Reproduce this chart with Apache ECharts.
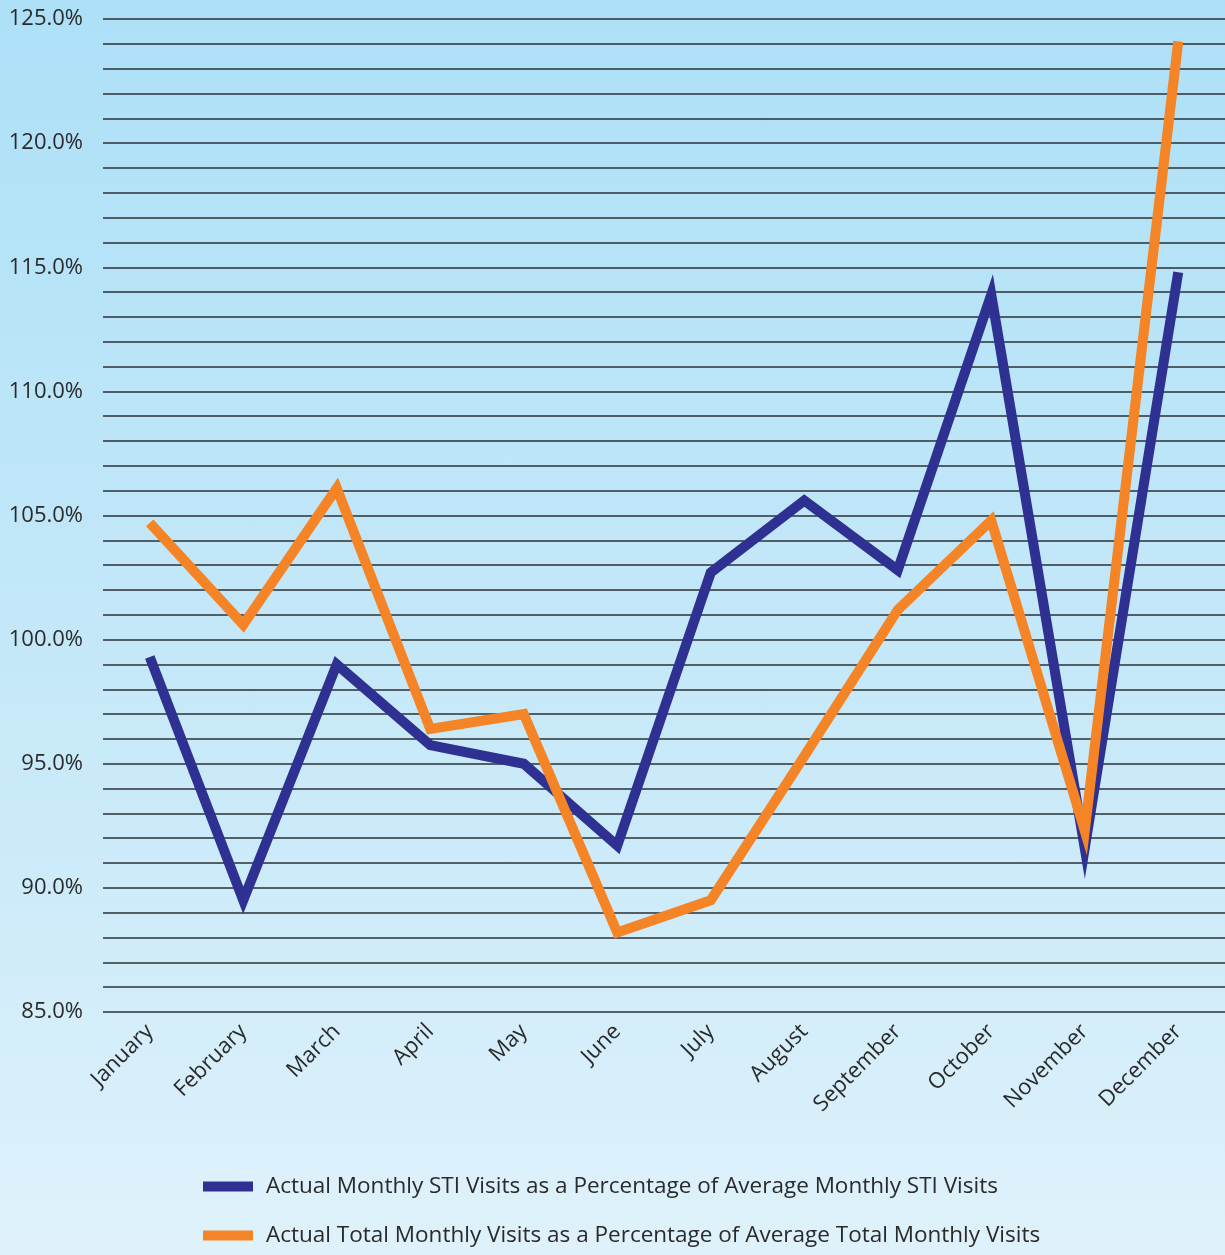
<!DOCTYPE html>
<html>
<head>
<meta charset="utf-8">
<script src="https://cdn.jsdelivr.net/npm/echarts@6/dist/echarts.min.js"></script>
<style>
  html, body { margin: 0; padding: 0; }
  #chart {
    width: 1225px; height: 1255px;
    background: linear-gradient(to bottom, #ade0f7 0%, #cdebf9 70%, #dff2fb 100%);
  }
</style>
</head>
<body>
<div id="chart"></div>
<script>
var months = ["January", "February", "March", "April", "May", "June",
  "July", "August", "September", "October", "November", "December"];
var stiVisits = [99.3, 89.5, 99.0, 95.75, 95.0, 91.7, 102.7, 105.6, 102.8, 113.9, 91.6, 114.8];
var totalVisits = [104.7, 100.6, 106.1, 96.4, 97.0, 88.2, 89.5, 95.3, 101.2, 104.8, 92.3, 124.1];
var stiName = "Actual Monthly STI Visits as a Percentage of Average Monthly STI Visits";
var totalName = "Actual Total Monthly Visits as a Percentage of Average Total Monthly Visits";

var myChart = echarts.init(document.getElementById("chart"));
var font = "'Open Sans', sans-serif";

var option = {
  animation: false,
  grid: { left: 103, right: -6, top: 19, bottom: 243 },
  legend: {
    orient: "vertical",
    left: 198,
    top: 1170,
    itemWidth: 50,
    itemHeight: 10,
    itemGap: 26,
    icon: "rect",
    textStyle: { fontFamily: font, fontSize: 22.5, color: "#2a2a2a", padding: [0, 0, 0, 8] },
    data: [stiName, totalName]
  },
  xAxis: {
    type: "category",
    data: months,
    boundaryGap: true,
    axisLine: { show: false },
    axisTick: { show: false },
    axisLabel: {
      rotate: 45, margin: 16, interval: 0,
      fontFamily: font, fontSize: 22, color: "#2a2a2a"
    }
  },
  yAxis: {
    type: "value",
    min: 85,
    max: 125,
    interval: 1,
    axisLine: { show: false },
    axisTick: { show: false },
    axisLabel: {
      margin: 20,
      fontFamily: font, fontSize: 22, color: "#2a2a2a",
      formatter: function (v) { return v % 5 === 0 ? v.toFixed(1) + "%" : ""; }
    },
    splitLine: { lineStyle: { color: "#2b3035", width: 1.5 } }
  },
  series: [
    {
      name: stiName,
      type: "line",
      data: stiVisits,
      symbol: "none",
      itemStyle: { color: "#2e3192" },
      lineStyle: { color: "#2e3192", width: 10, cap: "butt", join: "miter", miterLimit: 20 }
    },
    {
      name: totalName,
      type: "line",
      data: totalVisits,
      symbol: "none",
      itemStyle: { color: "#f58426" },
      lineStyle: { color: "#f58426", width: 10, cap: "butt", join: "miter", miterLimit: 20 }
    }
  ]
};

myChart.setOption(option);
</script>
</body>
</html>
